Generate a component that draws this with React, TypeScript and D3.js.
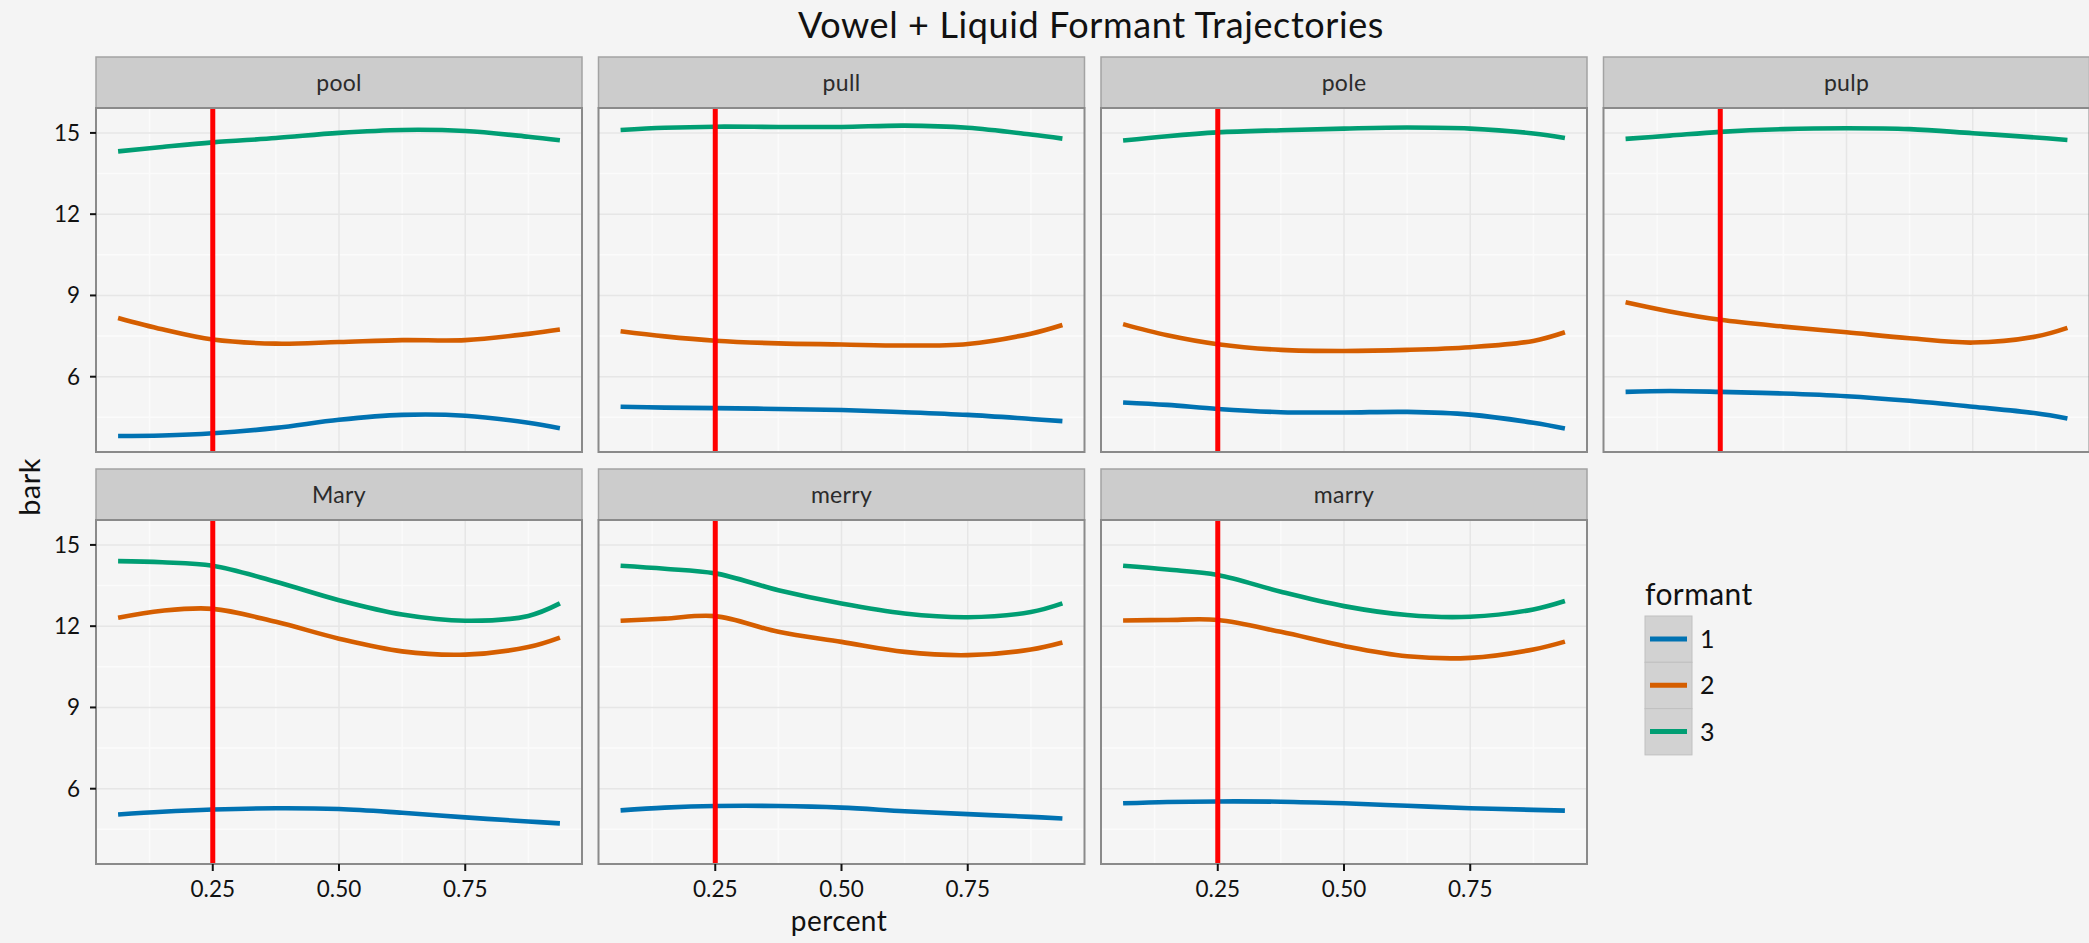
import React from 'react';
import * as d3 from 'd3';

// facet order
const words = ['pool', 'pull', 'pole', 'pulp', 'Mary', 'merry', 'marry'];
const formants = ['1', '2', '3'];
const formantColors = ['#0072B2', '#D55E00', '#009E73'];

// time points (proportion of vowel+liquid duration)
const percent = [0.0625, 0.15, 0.25, 0.375, 0.5, 0.625, 0.75, 0.875, 0.9375];

// bark values, one row per word (same order as words)
const formant1 = [
  [3.81, 3.83, 3.91, 4.11, 4.41, 4.59, 4.56, 4.3, 4.1],
  [4.89, 4.86, 4.84, 4.81, 4.77, 4.69, 4.59, 4.44, 4.36],
  [5.05, 4.96, 4.81, 4.69, 4.68, 4.7, 4.6, 4.3, 4.09],
  [5.44, 5.47, 5.44, 5.38, 5.28, 5.11, 4.89, 4.65, 4.46],
  [5.05, 5.15, 5.23, 5.28, 5.25, 5.11, 4.94, 4.79, 4.72],
  [5.2, 5.3, 5.36, 5.36, 5.3, 5.17, 5.06, 4.96, 4.9],
  [5.46, 5.51, 5.53, 5.52, 5.46, 5.37, 5.28, 5.22, 5.19],
];
const formant2 = [
  [8.17, 7.75, 7.37, 7.22, 7.28, 7.35, 7.35, 7.58, 7.74],
  [7.68, 7.49, 7.33, 7.23, 7.19, 7.15, 7.21, 7.59, 7.91],
  [7.94, 7.53, 7.2, 6.99, 6.95, 6.99, 7.09, 7.32, 7.64],
  [8.75, 8.41, 8.1, 7.85, 7.64, 7.42, 7.26, 7.48, 7.8],
  [12.31, 12.57, 12.64, 12.16, 11.54, 11.07, 10.95, 11.23, 11.58],
  [12.2, 12.28, 12.37, 11.79, 11.42, 11.05, 10.93, 11.14, 11.4],
  [12.21, 12.23, 12.23, 11.79, 11.27, 10.89, 10.83, 11.14, 11.43],
];
const formant3 = [
  [14.32, 14.48, 14.65, 14.81, 15.0, 15.11, 15.07, 14.86, 14.73],
  [15.11, 15.19, 15.23, 15.22, 15.22, 15.27, 15.19, 14.94, 14.79],
  [14.72, 14.88, 15.02, 15.1, 15.16, 15.2, 15.16, 14.98, 14.81],
  [14.78, 14.9, 15.04, 15.14, 15.17, 15.14, 14.99, 14.83, 14.74],
  [14.4, 14.36, 14.23, 13.64, 12.96, 12.43, 12.2, 12.38, 12.84],
  [14.23, 14.12, 13.95, 13.33, 12.84, 12.47, 12.33, 12.52, 12.84],
  [14.23, 14.09, 13.89, 13.27, 12.74, 12.41, 12.35, 12.62, 12.93],
];

const xTicks = [0.25, 0.5, 0.75];
const xMinor = [0.125, 0.375, 0.625, 0.875];
const yTicks = [6, 9, 12, 15];
const yMinor = [4.5, 7.5, 10.5, 13.5];
const markerAt = 0.25;

const W = 2089;
const H = 943;
const FONT = 'Lato, "Open Sans", sans-serif';

const panelLeft0 = 96;
const colStep = 502.5;
const panelW = 486;
const stripH = 51;
const panelH = 344;
const stripTops = [57, 469];

const App = () => {
  const x = d3.scaleLinear().domain([0.01875, 0.98125]).range([0, panelW]);
  const y = d3.scaleLinear().domain([3.22, 15.92]).range([panelH, 0]);
  const line = d3
    .line<[number, number]>()
    .x((d) => x(d[0]))
    .y((d) => y(d[1]))
    .curve(d3.curveCatmullRom.alpha(0.5));
  const series = [formant1, formant2, formant3];

  return (
    <svg
      width={W}
      height={H}
      style={{ position: 'absolute', left: 0, top: 0, fontFamily: FONT }}
    >
      <defs>
        <filter id="glow" x="-200%" y="-5%" width="500%" height="110%">
          <feGaussianBlur stdDeviation="2.5" />
        </filter>
      </defs>
      <rect width={W} height={H} fill="#F4F4F4" />
      <text x={1091} y={38} textAnchor="middle" fontSize={36} letterSpacing={0.6} fill="#111">
        Vowel + Liquid Formant Trajectories
      </text>

      {words.map((word, i) => {
        const col = i % 4;
        const row = Math.floor(i / 4);
        const left = panelLeft0 + col * colStep;
        const stripTop = stripTops[row];
        const top = stripTop + stripH;
        const showY = col === 0;
        const showX = row === 1;
        return (
          <g key={word}>
            <rect x={left} y={stripTop} width={panelW} height={stripH} fill="#CCCCCC" stroke="#A3A3A3" strokeWidth={1.5} />
            <text x={left + panelW / 2} y={stripTop + stripH / 2 + 8} textAnchor="middle" fontSize={23} letterSpacing={0.3} fill="#2b2b2b">
              {word}
            </text>
            <g transform={`translate(${left},${top})`}>
              <rect width={panelW} height={panelH} fill="#F5F5F5" />
              {xMinor.map((t) => (
                <line key={'xm' + t} x1={x(t)} x2={x(t)} y1={0} y2={panelH} stroke="#FBFBFB" strokeWidth={1.5} />
              ))}
              {yMinor.map((t) => (
                <line key={'ym' + t} x1={0} x2={panelW} y1={y(t)} y2={y(t)} stroke="#FBFBFB" strokeWidth={1.5} />
              ))}
              {xTicks.map((t) => (
                <line key={'xg' + t} x1={x(t)} x2={x(t)} y1={0} y2={panelH} stroke="#E6E6E6" strokeWidth={1.5} />
              ))}
              {yTicks.map((t) => (
                <line key={'yg' + t} x1={0} x2={panelW} y1={y(t)} y2={y(t)} stroke="#E6E6E6" strokeWidth={1.5} />
              ))}
              {series.map((s, k) => (
                <path
                  key={k}
                  d={line(percent.map((p, j) => [p, s[i][j]]) as [number, number][]) || ''}
                  fill="none"
                  stroke={formantColors[k]}
                  strokeWidth={4.6}
                />
              ))}
              <line x1={x(markerAt)} x2={x(markerAt)} y1={0} y2={panelH} stroke="#777" strokeWidth={7} opacity={0.45} filter="url(#glow)" />
              <line x1={x(markerAt)} x2={x(markerAt)} y1={0} y2={panelH} stroke="#FF0000" strokeWidth={5} />
              <rect width={panelW} height={panelH} fill="none" stroke="#8A8A8A" strokeWidth={2} />
              {showY &&
                yTicks.map((t) => (
                  <g key={'yt' + t}>
                    <line x1={-6} x2={0} y1={y(t)} y2={y(t)} stroke="#111" strokeWidth={2} />
                    <text x={-16} y={y(t) + 8} textAnchor="end" fontSize={22.5} fill="#111">
                      {t}
                    </text>
                  </g>
                ))}
              {showX &&
                xTicks.map((t) => (
                  <g key={'xt' + t}>
                    <line x1={x(t)} x2={x(t)} y1={panelH} y2={panelH + 7} stroke="#111" strokeWidth={2} />
                    <text x={x(t)} y={panelH + 33} textAnchor="middle" fontSize={22.5} fill="#111">
                      {d3.format('.2f')(t)}
                    </text>
                  </g>
                ))}
            </g>
          </g>
        );
      })}

      <text x={839} y={931} textAnchor="middle" fontSize={28} letterSpacing={0.4} fill="#111">
        percent
      </text>
      <text transform="translate(40,487) rotate(-90)" textAnchor="middle" fontSize={29} letterSpacing={0.4} fill="#111">
        bark
      </text>

      <g transform="translate(1645,605)">
        <text x={0} y={0} fontSize={30} letterSpacing={0.4} fill="#111">
          formant
        </text>
        {formants.map((f, k) => (
          <g key={f} transform={`translate(0,${11 + k * 46.3})`}>
            <rect width={47} height={46.3} fill="#D2D2D2" stroke="#C0C0C0" strokeWidth={1} />
            <line x1={5} x2={42} y1={23} y2={23} stroke={formantColors[k]} strokeWidth={5} />
            <text x={55} y={32} fontSize={25} fill="#111">
              {f}
            </text>
          </g>
        ))}
      </g>
    </svg>
  );
};

export default App;
